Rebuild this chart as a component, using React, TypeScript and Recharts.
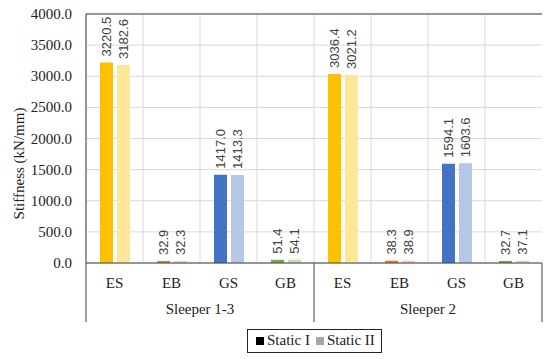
import { BarChart, Bar, XAxis, YAxis, CartesianGrid, Legend, ReferenceLine, Cell } from 'recharts';

const categories = ['ES', 'EB', 'GS', 'GB', 'ES', 'EB', 'GS', 'GB'];
const groups = ['Sleeper 1-3', 'Sleeper 2'];
const staticI = [3220.5, 32.9, 1417.0, 51.4, 3036.4, 38.3, 1594.1, 32.7];
const staticII = [3182.6, 32.3, 1413.3, 54.1, 3021.2, 38.9, 1603.6, 37.1];
const yTicks = [0, 500, 1000, 1500, 2000, 2500, 3000, 3500, 4000];

const darkColors: Record<string, string> = { ES: '#FFC000', EB: '#ED7D31', GS: '#4472C4', GB: '#70AD47' };
const lightColors: Record<string, string> = { ES: '#FFE699', EB: '#F8CBAD', GS: '#B4C7E7', GB: '#C5E0B4' };

const data = categories.map((cat, i) => ({
    cat,
    group: groups[Math.floor(i / 4)],
    s1: staticI[i],
    s2: staticII[i],
}));

const serif = 'Liberation Serif';
const sans = 'Liberation Sans';
const axisColor = '#404040';
const textColor = '#222';

const BarValue = (props: any) => {
    const { x, y, width, value } = props;
    const cx = x + width / 2;
    const ty = y - 6;
    return (
        <text x={cx} y={ty} transform={`rotate(-90, ${cx}, ${ty})`} textAnchor="start" dominantBaseline="central"
            fontFamily={sans} fontSize={13} fill="#404040">
            {Number(value).toFixed(1)}
        </text>
    );
};

const ValueTick = (props: any) => {
    const { x, y, payload } = props;
    return (
        <text x={x} y={y} textAnchor="end" dominantBaseline="central" fontFamily={serif} fontSize={15} fill={textColor}>
            {Number(payload.value).toFixed(1)}
        </text>
    );
};

const CategoryTick = (props: any) => {
    const { x, y, payload } = props;
    const idx = payload.index ?? categories.indexOf(payload.value);
    const half = payload.offset ?? 28.5;
    const lineLen = 59;
    return (
        <g>
            <text x={x} y={y + 25} textAnchor="middle" fontFamily={serif} fontSize={15} fill={textColor}>{payload.value}</text>
            {idx % 4 === 0 && <line x1={x - half} y1={y} x2={x - half} y2={y + lineLen} stroke={axisColor} />}
            {idx === categories.length - 1 && <line x1={x + half} y1={y} x2={x + half} y2={y + lineLen} stroke={axisColor} />}
            {idx % 4 === 1 && (
                <text x={x + half} y={y + 51} textAnchor="middle" fontFamily={serif} fontSize={15} fill={textColor}>
                    {groups[Math.floor(idx / 4)]}
                </text>
            )}
        </g>
    );
};

const LegendBox = () => (
    <div style={{ display: 'inline-flex', alignItems: 'center', border: '1px solid #222', padding: '2px 6px 3px 8px', fontFamily: serif, fontSize: 15, color: textColor, background: '#fff' }}>
        <span style={{ display: 'inline-block', width: 8, height: 8, background: '#000', marginRight: 3 }} />
        <span style={{ marginRight: 6 }}>Static I</span>
        <span style={{ display: 'inline-block', width: 8, height: 8, background: '#a6a6a6', marginRight: 3 }} />
        <span>Static II</span>
    </div>
);

const AxisTitle = ({ viewBox }: any) => {
    const x = viewBox.x + 19;
    const y = viewBox.y + viewBox.height / 2 + 25;
    return (
        <text x={x} y={y} transform={`rotate(-90, ${x}, ${y})`} textAnchor="middle" dominantBaseline="central"
            fontFamily={serif} fontSize={15} fill={textColor}>
            Stiffness (kN/mm)
        </text>
    );
};

const StiffnessChart = () => {
    return (
        <div style={{ position: 'absolute', left: 0, top: 0, background: '#fff', fontFamily: serif }}>
            <BarChart width={550} height={359} data={data} margin={{ top: 14, right: 8, left: 0, bottom: 0 }} barSize={13} barGap={4}>
                <CartesianGrid stroke="#d9d9d9"
                    verticalCoordinatesGenerator={({ offset }: any) =>
                        data.map((_, i) => offset.left + (i * offset.width) / data.length)}
                />
                <XAxis dataKey="cat" height={72} interval={0} tickSize={0} tickMargin={0} axisLine={{ stroke: axisColor }} tickLine={false} tick={<CategoryTick />} />
                <YAxis width={86} domain={[0, 4000]} ticks={yTicks} tickSize={0} tickMargin={14} axisLine={{ stroke: axisColor }} tickLine={false}
                    tick={<ValueTick />}
                    label={{ content: <AxisTitle /> }}
                />
                <YAxis yAxisId="right" orientation="right" width={0} domain={[0, 4000]} tick={false} tickLine={false} axisLine={{ stroke: axisColor }} />
                <ReferenceLine y={4000} stroke={axisColor} />
                <Legend verticalAlign="bottom" content={<LegendBox />} wrapperStyle={{ left: 247, width: 'auto', bottom: 6 }} />
                <Bar dataKey="s1" name="Static I" fill="#000" isAnimationActive={false} label={<BarValue />}>
                    {data.map((d, i) => <Cell key={i} fill={darkColors[d.cat]} />)}
                </Bar>
                <Bar dataKey="s2" name="Static II" fill="#a6a6a6" isAnimationActive={false} label={<BarValue />}>
                    {data.map((d, i) => <Cell key={i} fill={lightColors[d.cat]} />)}
                </Bar>
            </BarChart>
        </div>
    );
};

export default function App() {
    return <StiffnessChart />;
}
